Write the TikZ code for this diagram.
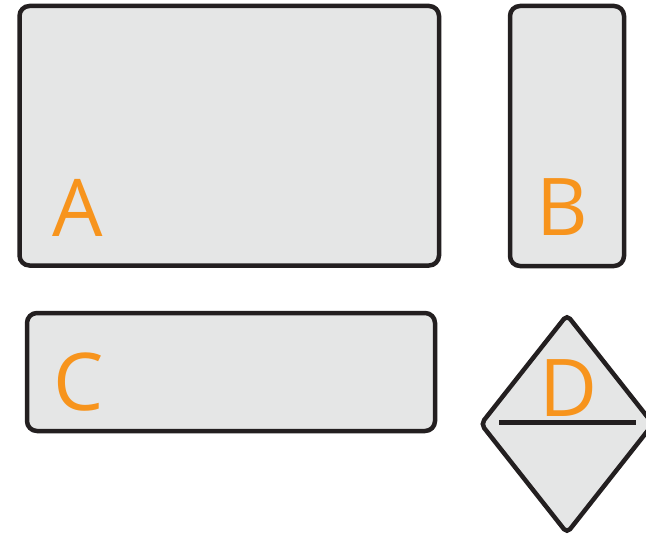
\documentclass[tikz,border=0pt]{standalone}
\usepackage{fontspec}
\setmainfont{Open Sans}
\definecolor{boxfill}{HTML}{E5E6E6}
\definecolor{boxline}{HTML}{231F20}
\definecolor{lblorange}{HTML}{F7941D}
\begin{document}
\begin{tikzpicture}[x=1bp,y=-1bp,
  box/.style={draw=boxline,fill=boxfill,line width=4.5bp,rounded corners=10bp},
  lbl/.style={text=lblorange,font=\fontsize{80}{80}\selectfont,inner sep=0pt,anchor=base}]
\useasboundingbox (0,0) rectangle (646,536);
\draw[box] (19.5,6) rectangle (439,265.5);
\draw[box] (510,6) rectangle (624,266);
\draw[box] (27,313) rectangle (435,431);
\draw[box,rounded corners=5bp] (567,315) -- (653,424) -- (567,533) -- (481,424) -- cycle;
\coordinate (dl) at (499,422);
\coordinate (dr) at (636,422);
\draw[boxline,line width=5bp] (dl) -- (dr);
\node[lbl] (la) at (78,237) {A};
\node[lbl] (lb) at (562,236) {B};
\node[lbl] (lc) at (79,410) {C};
\node[lbl] (ld) at (569,416) {D};
\end{tikzpicture}
\end{document}
